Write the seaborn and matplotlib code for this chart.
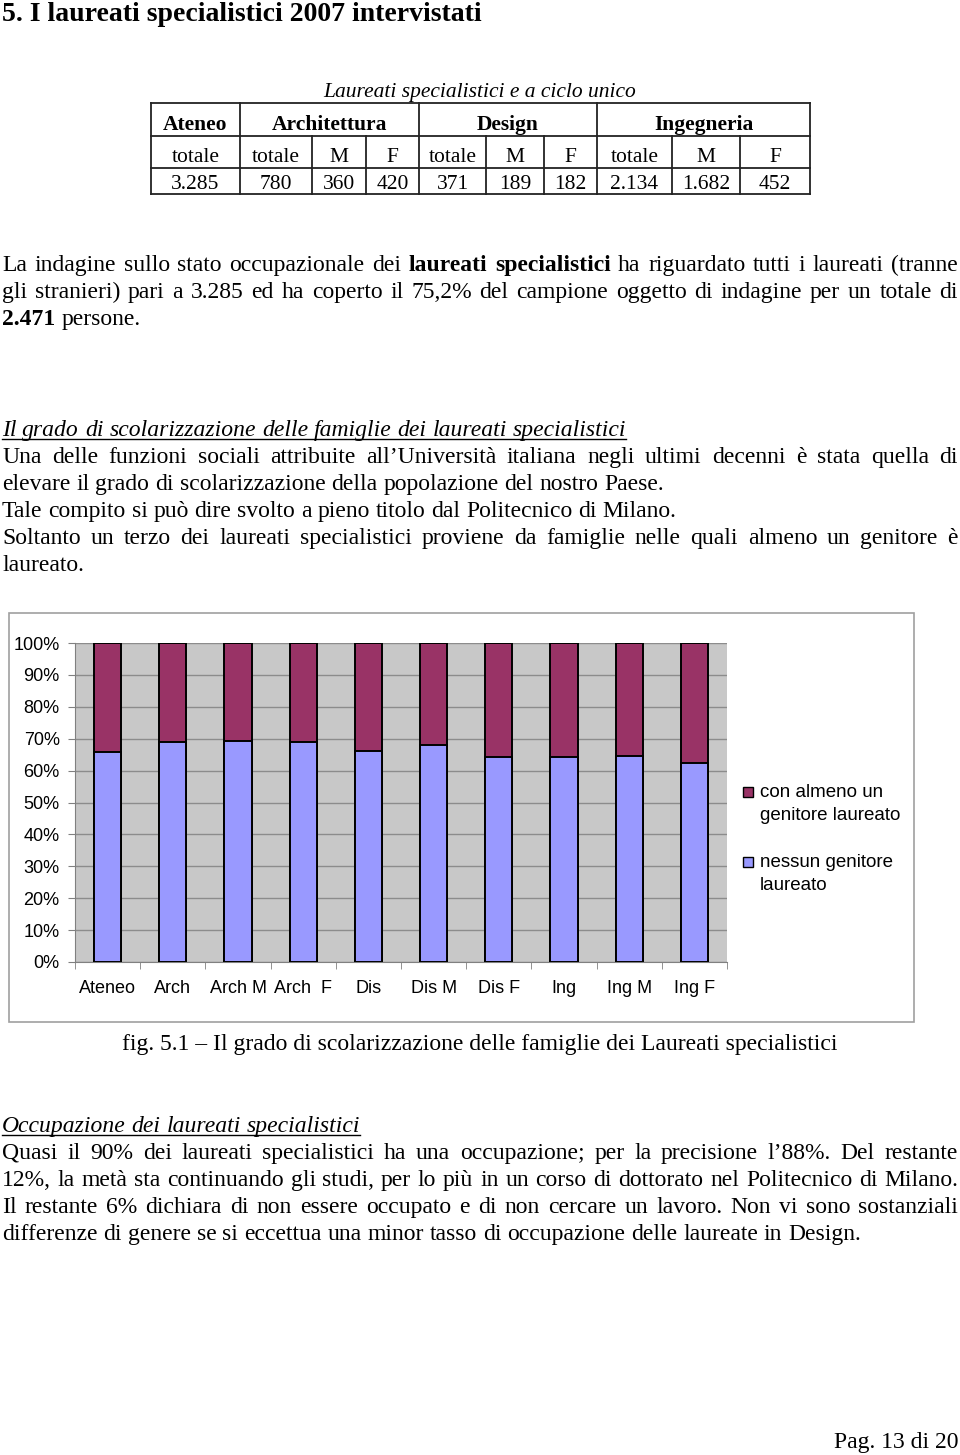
import matplotlib
matplotlib.use("Agg")
import matplotlib.pyplot as plt
from matplotlib.patches import Rectangle
from matplotlib.ticker import FixedLocator
import numpy as np
import pandas as pd
import seaborn as sns

# ------------------------------------------------------------
# data
# ------------------------------------------------------------
categories = ["Ateneo", "Arch", "Arch M", "Arch  F", "Dis", "Dis M", "Dis F", "Ing", "Ing M", "Ing F"]
nessun_genitore = [65.7, 69.1, 69.4, 69.1, 66.2, 68.1, 64.4, 64.4, 64.7, 62.5]
con_almeno_uno = [34.3, 30.9, 30.6, 30.9, 33.8, 31.9, 35.6, 35.6, 35.3, 37.5]
y_ticks = [0, 10, 20, 30, 40, 50, 60, 70, 80, 90, 100]
y_tick_labels = ["0%", "10%", "20%", "30%", "40%", "50%", "60%", "70%", "80%", "90%", "100%"]
legend_labels = [["con almeno un", "genitore laureato"], ["nessun genitore", "laureato"]]

table_title = "Laureati specialistici e a ciclo unico"
table_groups = ["Ateneo", "Architettura", "Design", "Ingegneria"]
table_sub = ["totale", "totale", "M", "F", "totale", "M", "F", "totale", "M", "F"]
table_counts = ["3.285", "780", "360", "420", "371", "189", "182", "2.134", "1.682", "452"]

# ------------------------------------------------------------
# page setup (page axes in pixel units)
# ------------------------------------------------------------
W, H = 960, 1455
SERIF = "Liberation Serif"
plt.rcParams["font.family"] = "Liberation Sans"
BODY = 17
MAROON = "#993366"
LILAC = "#9999FF"

fig = plt.figure(figsize=(W / 100, H / 100), dpi=100)
page = fig.add_axes([0, 0, 1, 1])
page.set_xlim(0, W)
page.set_ylim(H, 0)
page.axis("off")
renderer = fig.canvas.get_renderer()


def measure(word, size, weight="normal", style="normal"):
    t = page.text(0, 0, word, fontfamily=SERIF, fontsize=size, fontweight=weight, fontstyle=style)
    w = t.get_window_extent(renderer).width
    t.remove()
    return w


def put_line(y, segments, justify=False, x0=2.0, x1=958.0, size=BODY, style="normal"):
    words = []
    for seg, weight in segments:
        for w in seg.split(" "):
            if w:
                words.append((w, weight))
    widths = [measure(w, size, wt, style) for w, wt in words]
    space = 0.25 * size / 0.72
    if justify and len(words) > 1:
        space = (x1 - x0 - sum(widths)) / (len(words) - 1)
    x = x0
    for (w, wt), wd in zip(words, widths):
        page.text(x, y, w, fontfamily=SERIF, fontsize=size, fontweight=wt,
                  fontstyle=style, ha="left", va="baseline")
        x += wd + space
    return x - space


def heading(y, text):
    xend = put_line(y, [(text, "normal")], style="italic")
    page.plot([2, xend], [y + 3, y + 3], color="black", lw=1)


# ------------------------------------------------------------
# title + table
# ------------------------------------------------------------
page.text(2, 21, "5. I laureati specialistici 2007 intervistati", fontfamily=SERIF,
          fontsize=20, fontweight="bold", va="baseline")
page.text(480, 97, table_title, fontfamily=SERIF, fontsize=15.5, fontstyle="italic",
          ha="center", va="baseline")

edges = [151, 240, 312, 366, 419, 486, 544, 597, 672, 740, 810]
group_edges = [151, 240, 419, 597, 810]
rows = [103, 136, 168, 194]
for yy in rows:
    page.plot([edges[0], edges[-1]], [yy, yy], color="#222222", lw=1.3)
for xx in edges:
    top = rows[0] if xx in group_edges else rows[1]
    page.plot([xx, xx], [top, rows[-1]], color="#222222", lw=1.3)
for i, g in enumerate(table_groups):
    page.text((group_edges[i] + group_edges[i + 1]) / 2, 130, g, fontfamily=SERIF,
              fontsize=15.5, fontweight="bold", ha="center", va="baseline")
for i in range(len(table_sub)):
    cx = (edges[i] + edges[i + 1]) / 2
    page.text(cx, 162, table_sub[i], fontfamily=SERIF, fontsize=15.5, ha="center", va="baseline")
    page.text(cx, 189, table_counts[i], fontfamily=SERIF, fontsize=15.5, ha="center", va="baseline")

# ------------------------------------------------------------
# text paragraphs
# ------------------------------------------------------------
put_line(271, [("La indagine sullo stato occupazionale dei", "normal"),
               ("laureati specialistici", "bold"),
               ("ha riguardato tutti i laureati (tranne", "normal")], justify=True)
put_line(298, [("gli stranieri) pari a 3.285 ed ha coperto il 75,2% del campione oggetto di indagine per un totale di", "normal")], justify=True)
put_line(325, [("2.471", "bold"), ("persone.", "normal")])

heading(436, "Il grado di scolarizzazione delle famiglie dei laureati specialistici")
put_line(463, [("Una delle funzioni sociali attribuite all’Università italiana negli ultimi decenni è stata quella di", "normal")], justify=True)
put_line(490, [("elevare il grado di scolarizzazione della popolazione del nostro Paese.", "normal")])
put_line(517, [("Tale compito si può dire svolto a pieno titolo dal Politecnico di Milano.", "normal")])
put_line(544, [("Soltanto un terzo dei laureati specialistici proviene da famiglie nelle quali almeno un genitore è", "normal")], justify=True)
put_line(571, [("laureato.", "normal")])

page.text(480, 1050, "fig. 5.1 – Il grado di scolarizzazione delle famiglie dei Laureati specialistici",
          fontfamily=SERIF, fontsize=BODY, ha="center", va="baseline")

heading(1132, "Occupazione dei laureati specialistici")
put_line(1159, [("Quasi il 90% dei laureati specialistici ha una occupazione; per la precisione l’88%. Del restante", "normal")], justify=True)
put_line(1186, [("12%, la metà sta continuando gli studi, per lo più in un corso di dottorato nel Politecnico di Milano.", "normal")], justify=True)
put_line(1213, [("Il restante 6% dichiara di non essere occupato e di non cercare un lavoro. Non vi sono sostanziali", "normal")], justify=True)
put_line(1240, [("differenze di genere se si eccettua una minor tasso di occupazione delle laureate in Design.", "normal")])

page.text(958, 1448, "Pag. 13 di 20", fontfamily=SERIF, fontsize=BODY, ha="right", va="baseline")

# ------------------------------------------------------------
# chart frame + legend
# ------------------------------------------------------------
page.add_patch(Rectangle((9, 613), 905, 409, facecolor="white", edgecolor="#A0A0A0", lw=1.2))

legend_colors = [MAROON, LILAC]
legend_tops = [787, 857]
for lines, col, top in zip(legend_labels, legend_colors, legend_tops):
    page.add_patch(Rectangle((743, top), 10, 10, facecolor=col, edgecolor="black", lw=1))
    for k, txt in enumerate(lines):
        page.text(760, top + 10 + 23.5 * k, txt, fontsize=13.5, ha="left", va="baseline")

# ------------------------------------------------------------
# stacked bar chart
# ------------------------------------------------------------
df = pd.DataFrame({"categoria": categories, "nessun": nessun_genitore, "con": con_almeno_uno})
df["totale"] = df["nessun"] + df["con"]

ax = fig.add_axes([75 / W, 1 - 962 / H, 652 / W, 319 / H])
ax.set_facecolor("#C8C8C8")
sns.barplot(data=df, x="categoria", y="totale", color=MAROON, saturation=1, width=0.42,
            edgecolor="black", linewidth=1.4, errorbar=None, ax=ax, zorder=3)
sns.barplot(data=df, x="categoria", y="nessun", color=LILAC, saturation=1, width=0.42,
            edgecolor="black", linewidth=1.4, errorbar=None, ax=ax, zorder=3)

ax.set_xlim(-0.5, len(categories) - 0.5)
ax.set_ylim(0, 100)
ax.set_xlabel("")
ax.set_ylabel("")
ax.set_axisbelow(True)
ax.yaxis.grid(True, color="#8C8C8C", lw=1)
ax.set_yticks(y_ticks)
ax.set_yticklabels(y_tick_labels)
ax.set_xticks(range(len(categories)))
ax.set_xticklabels(categories)
ax.xaxis.set_minor_locator(FixedLocator(np.arange(-0.5, len(categories), 1)))
ax.tick_params(axis="y", length=5, color="#808080", pad=6, labelsize=13)
ax.tick_params(axis="x", which="major", length=0, pad=13, labelsize=13)
ax.tick_params(axis="x", which="minor", length=5, color="#808080")
for side in ["top", "right"]:
    ax.spines[side].set_visible(False)
for side in ["left", "bottom"]:
    ax.spines[side].set_color("#808080")

fig.savefig("out.png", dpi=100)
